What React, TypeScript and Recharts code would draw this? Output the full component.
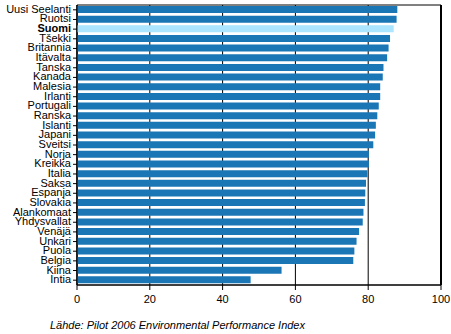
import { BarChart, Bar, XAxis, YAxis, CartesianGrid, Cell, ReferenceArea, ReferenceLine } from 'recharts';

const countries = [
  'Uusi Seelanti', 'Ruotsi', 'Suomi', 'Tšekki', 'Britannia', 'Itävalta', 'Tanska', 'Kanada',
  'Malesia', 'Irlanti', 'Portugali', 'Ranska', 'Islanti', 'Japani', 'Sveitsi', 'Norja',
  'Kreikka', 'Italia', 'Saksa', 'Espanja', 'Slovakia', 'Alankomaat', 'Yhdysvallat', 'Venäjä',
  'Unkari', 'Puola', 'Belgia', 'Kiina', 'Intia'
];
const scores = [
  88.0, 87.8, 87.0, 86.0, 85.6, 85.2, 84.2, 84.0,
  83.3, 83.3, 82.9, 82.5, 82.1, 81.9, 81.4, 80.2,
  80.2, 79.8, 79.4, 79.2, 79.1, 78.7, 78.5, 77.5,
  76.8, 76.2, 75.9, 56.2, 47.7
];
const xTicks = [0, 20, 40, 60, 80, 100];
const highlight = 'Suomi';

const data = countries.map((name, i) => ({ name, score: scores[i] }));

const font = 'Arial, "Liberation Sans", sans-serif';

function CountryTick(props: any) {
  const { x, y, payload } = props;
  const bold = payload.value === highlight;
  return (
    <text x={x} y={y} dy={3} textAnchor="end" fontSize={11} fontFamily={font}
      fontWeight={bold ? 'bold' : 'normal'} fill="#000">
      {payload.value}
    </text>
  );
}

export default function App() {
  return (
    <div style={{ position: 'relative', width: 451, height: 334, background: '#fff' }}>
      <style>{'body{margin:0}'}</style>
      <BarChart width={451} height={334} data={data} layout="vertical"
        margin={{ top: 5, right: 10, left: 0, bottom: 29 }} barSize={7}>
        <CartesianGrid horizontal={false} stroke="#000" />
        <XAxis type="number" domain={[0, 100]} ticks={xTicks} tickSize={5} tickMargin={5}
          axisLine={{ stroke: '#000' }} tickLine={{ stroke: '#000' }}
          tick={{ fontSize: 11, fontFamily: font, fill: '#000' }} height={20} />
        <YAxis type="category" dataKey="name" width={77} tickSize={4} interval={0}
          axisLine={{ stroke: '#000' }} tickLine={{ stroke: '#000' }} tick={<CountryTick />} />
        <ReferenceArea x1={0} x2={100} fill="none" stroke="#000" fillOpacity={0} />
        <ReferenceLine x={100} stroke="#000" strokeWidth={2} />
        <Bar dataKey="score" isAnimationActive={false}>
          {data.map((d) => (
            <Cell key={d.name} fill={d.name === highlight ? '#abe5ff' : '#1b76b5'} />
          ))}
        </Bar>
      </BarChart>
      <div style={{ position: 'absolute', left: 50, top: 319, fontSize: 11, fontFamily: font, fontStyle: 'italic', color: '#000' }}>
        Lähde: Pilot 2006 Environmental Performance Index
      </div>
    </div>
  );
}
